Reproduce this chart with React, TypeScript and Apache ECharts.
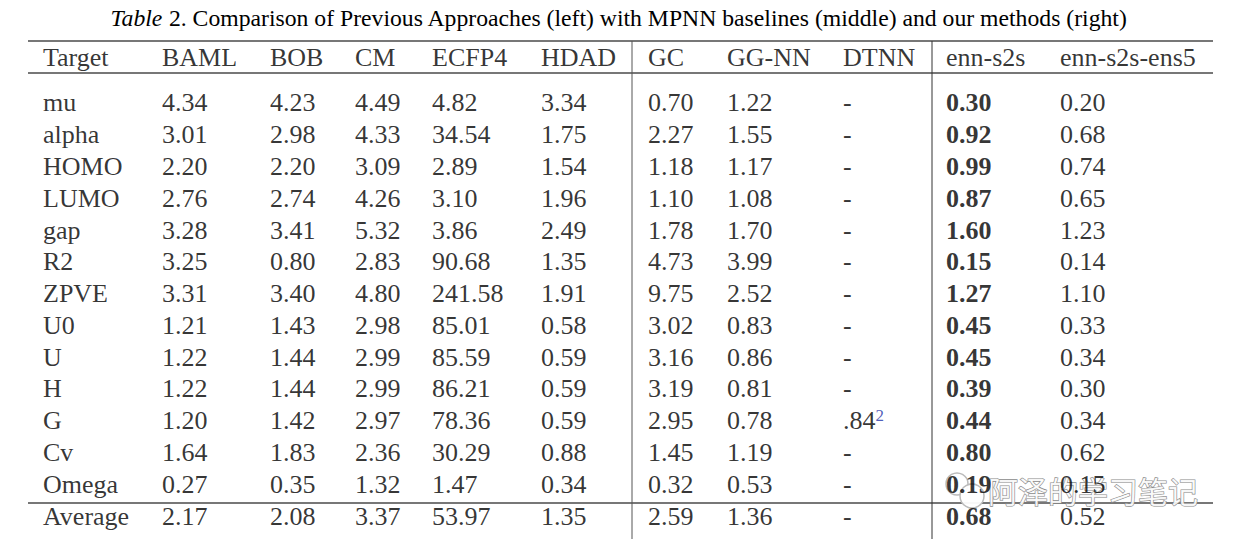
import React, { useEffect, useRef } from 'react';
import * as echarts from 'echarts';

const titleLabel = 'Table';
const titleText = ' 2. Comparison of Previous Approaches (left) with MPNN baselines (middle) and our methods (right)';
const columns = ['Target', 'BAML', 'BOB', 'CM', 'ECFP4', 'HDAD', 'GC', 'GG-NN', 'DTNN', 'enn-s2s', 'enn-s2s-ens5'];
const targets = ['mu', 'alpha', 'HOMO', 'LUMO', 'gap', 'R2', 'ZPVE', 'U0', 'U', 'H', 'G', 'Cv', 'Omega', 'Average'];
const baml = [4.34, 3.01, 2.20, 2.76, 3.28, 3.25, 3.31, 1.21, 1.22, 1.22, 1.20, 1.64, 0.27, 2.17];
const bob = [4.23, 2.98, 2.20, 2.74, 3.41, 0.80, 3.40, 1.43, 1.44, 1.44, 1.42, 1.83, 0.35, 2.08];
const cm = [4.49, 4.33, 3.09, 4.26, 5.32, 2.83, 4.80, 2.98, 2.99, 2.99, 2.97, 2.36, 1.32, 3.37];
const ecfp4 = [4.82, 34.54, 2.89, 3.10, 3.86, 90.68, 241.58, 85.01, 85.59, 86.21, 78.36, 30.29, 1.47, 53.97];
const hdad = [3.34, 1.75, 1.54, 1.96, 2.49, 1.35, 1.91, 0.58, 0.59, 0.59, 0.59, 0.88, 0.34, 1.35];
const gc = [0.70, 2.27, 1.18, 1.10, 1.78, 4.73, 9.75, 3.02, 3.16, 3.19, 2.95, 1.45, 0.32, 2.59];
const ggnn = [1.22, 1.55, 1.17, 1.08, 1.70, 3.99, 2.52, 0.83, 0.86, 0.81, 0.78, 1.19, 0.53, 1.36];
const dtnn: (number | null)[] = [null, null, null, null, null, null, null, null, null, null, 0.84, null, null, null];
const dtnnFootnote = '2';
const ennS2s = [0.30, 0.92, 0.99, 0.87, 1.60, 0.15, 1.27, 0.45, 0.45, 0.39, 0.44, 0.80, 0.19, 0.68];
const ennS2sEns5 = [0.20, 0.68, 0.74, 0.65, 1.23, 0.14, 1.10, 0.33, 0.34, 0.30, 0.34, 0.62, 0.15, 0.52];
const watermark = '阿泽的学习笔记';

const valueColumns: (number | null)[][] = [baml, bob, cm, ecfp4, hdad, gc, ggnn, dtnn, ennS2s, ennS2sEns5];

// layout (pixels)
const W = 1258;
const H = 553;
const colLeft = [43, 162, 270, 355, 432, 541, 648, 727, 843, 946, 1060];
const FONT = 'Liberation Serif';
const FS = 26;
const INK = '#000';

export default function App() {
  const ref = useRef<HTMLDivElement>(null);
  useEffect(() => {
    if (!ref.current) return;
    const chart = echarts.init(ref.current, undefined, { renderer: 'svg' });

    const baseLabel = {
      show: true,
      position: 'right' as const,
      distance: 0,
      fontFamily: FONT,
      fontSize: FS,
      color: INK,
      align: 'left' as const,
      verticalAlign: 'middle' as const,
    };

    const series: any[] = [];
    // header
    series.push({
      type: 'scatter',
      xAxisIndex: 1,
      yAxisIndex: 1,
      symbolSize: 0,
      silent: true,
      data: columns.map((c, i) => ({ value: [colLeft[i], 'header'], name: c })),
      label: { ...baseLabel, formatter: (p: any) => p.name },
    });
    // target names
    series.push({
      type: 'scatter',
      xAxisIndex: 0,
      yAxisIndex: 0,
      symbolSize: 0,
      silent: true,
      data: targets.map((t) => ({ value: [colLeft[0], t], name: t })),
      label: { ...baseLabel, formatter: (p: any) => p.name },
    });
    valueColumns.forEach((vals, ci) => {
      const col = columns[ci + 1];
      const isDtnn = col === 'DTNN';
      const bold = col === 'enn-s2s';
      series.push({
        type: 'scatter',
        name: col,
        xAxisIndex: 0,
        yAxisIndex: 0,
        symbolSize: 0,
        silent: true,
        data: targets.map((t) => ({ value: [colLeft[ci + 1], t] })),
        label: {
          ...baseLabel,
          fontWeight: bold ? 'bold' : 'normal',
          formatter: (p: any) => {
            const v = vals[p.dataIndex];
            if (v === null || v === undefined) return '-';
            if (isDtnn) return '{n|' + v.toFixed(2).replace(/^0/, '') + '}{sup|' + dtnnFootnote + '}';
            return v.toFixed(2);
          },
          rich: {
            n: { fontFamily: FONT, fontSize: FS, color: INK, lineHeight: 28 },
            sup: { fontFamily: FONT, fontSize: 17, color: '#1f33a8', verticalAlign: 'top', lineHeight: 28 },
          },
        },
      });
    });

    const ruleColor = '#777';
    const option: any = {
      animation: false,
      backgroundColor: '#fff',
      grid: [
        { left: 0, right: 0, top: 87, height: 445 },
        { left: 0, right: 0, top: 41, height: 32 },
      ],
      xAxis: [
        { type: 'value', gridIndex: 0, min: 0, max: W, show: false },
        { type: 'value', gridIndex: 1, min: 0, max: W, show: false },
      ],
      yAxis: [
        { type: 'category', gridIndex: 0, data: targets, inverse: true, show: false },
        { type: 'category', gridIndex: 1, data: ['header'], show: false },
      ],
      series,
      graphic: [
        {
          type: 'text',
          x: 619,
          y: 18,
          style: {
            text: '{i|' + titleLabel + '}{r|' + titleText + '}',
            align: 'center',
            verticalAlign: 'middle',
            rich: {
              i: { fontFamily: FONT, fontSize: 23.7, fontStyle: 'italic', fill: INK },
              r: { fontFamily: FONT, fontSize: 23.7, fill: INK },
            },
          },
        },
        { type: 'line', shape: { x1: 28, y1: 41, x2: 1213, y2: 41 }, style: { stroke: ruleColor, lineWidth: 2 } },
        { type: 'line', shape: { x1: 28, y1: 73, x2: 1213, y2: 73 }, style: { stroke: ruleColor, lineWidth: 2 } },
        { type: 'line', shape: { x1: 28, y1: 503, x2: 1213, y2: 503 }, style: { stroke: ruleColor, lineWidth: 2 } },
        { type: 'line', shape: { x1: 632, y1: 41, x2: 632, y2: 539 }, style: { stroke: '#555', lineWidth: 1 } },
        { type: 'line', shape: { x1: 932, y1: 41, x2: 932, y2: 539 }, style: { stroke: '#333', lineWidth: 1 } },
        {
          type: 'group',
          z: 100,
          children: [
            { type: 'circle', shape: { cx: 957, cy: 484, r: 11 }, style: { fill: 'rgba(255,255,255,0.9)', stroke: '#bbb', lineWidth: 1.5 } },
            { type: 'circle', shape: { cx: 972, cy: 496, r: 12 }, style: { fill: 'rgba(255,255,255,0.95)', stroke: '#bbb', lineWidth: 1.5 } },
            {
              type: 'text',
              x: 988,
              y: 490,
              style: {
                text: watermark,
                fontFamily: 'Noto Sans CJK SC',
                fontSize: 30,
                fill: 'rgba(255,255,255,0.9)',
                stroke: '#8a8a8a',
                lineWidth: 1.2,
                verticalAlign: 'middle',
              },
            },
          ],
        },
      ],
    };
    chart.setOption(option);
    return () => chart.dispose();
  }, []);
  return <div ref={ref} style={{ position: 'fixed', left: 0, top: 0, width: W, height: H }} />;
}
